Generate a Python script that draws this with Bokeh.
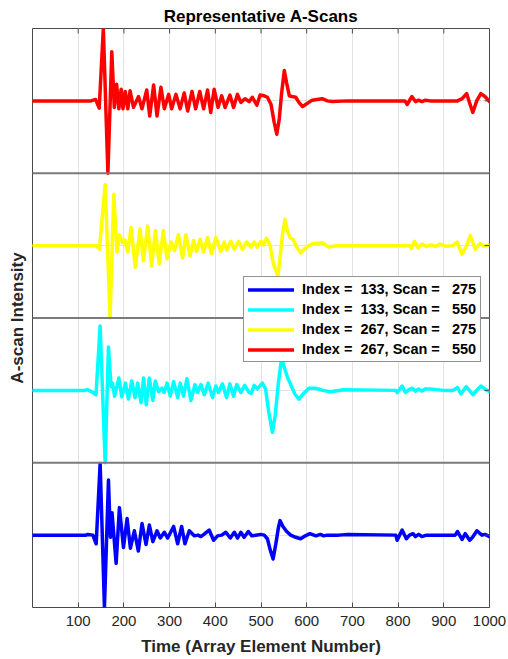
from bokeh.plotting import figure
from bokeh.models import FixedTicker, Span, Legend, LegendItem, Range1d
from bokeh.embed import file_html
from bokeh.resources import INLINE

# ---------------- data ----------------
x_ticks = [100, 200, 300, 400, 500, 600, 700, 800, 900, 1000]
labels = ["Index =  133, Scan =   275", "Index =  133, Scan =   550",
          "Index =  267, Scan =   275", "Index =  267, Scan =   550"]
colors = ["#0000ff", "#00ffff", "#ffff00", "#ff0000"]

blue_x = [0, 117, 121, 132, 139.3, 148, 157.4, 166.2, 170.5, 174, 183, 190.2, 199, 207, 214.2,
          222.9, 231.6, 239.7, 248.4, 255.7, 263.4, 272.4, 279.6, 288.4, 295.8, 308.8, 317.6,
          326.3, 333.6, 343, 354, 362, 368.5, 375, 386.6, 396.2, 405, 414, 423, 432.8, 441.6,
          448.8, 455.8, 463, 472.3, 480, 499.5, 507, 514, 520, 526.5, 533, 538, 541.6, 548,
          556.2, 565, 576, 586.8, 597, 607, 620, 630, 637, 645, 670, 690, 795, 798, 808.8, 818,
          825, 832.8, 838, 845, 852, 862, 925, 930, 940, 947, 956.7, 963, 972.4, 983.4, 990, 1000]
blue_y = [0, 0, 0.01, 0.0, -0.12, 0.99, -1.0, 0.76, -0.03, 0.31, -0.39, 0.38, -0.17, 0.23, -0.18,
          0.06, -0.22, 0.16, -0.13, 0.14, -0.09, 0.06, -0.04, 0.04, -0.04, 0.12, -0.12,
          0.12, -0.12, 0.06, -0.01, 0.0, -0.02, 0.01, 0.07, -0.07, -0.01, 0.0, 0.04, -0.04, 0.04,
          -0.04, 0.04, -0.03, 0.05, -0.01, 0.01, 0.0, -0.05, -0.2, -0.33, -0.1, 0.1, 0.2, 0.12,
          0.05, 0.0, -0.03, -0.05, -0.01, 0.02, -0.01, 0.01, -0.01, 0.0, 0.0, 0.01, 0.0, -0.07, 0.07, -0.05,
          0.0, 0.02, -0.02, 0.01, -0.02, 0.0, 0.0, 0.05, -0.06, 0.02, -0.07, -0.03, 0.06, 0.0, 0.01, -0.02]

cyan_x = [0, 114, 119.6, 130, 139, 148, 159, 166.2, 172, 175, 179.7, 189, 195.4, 203.4, 209.9,
          217.1, 224.4, 230.2, 237.5, 243, 249, 255.7, 263.4, 268.8, 276, 283.3, 288, 294.3,
          301.5, 308.8, 317.8, 323.3, 330.6, 337.9, 346.6, 355.4, 361.2, 368.5, 375.8, 384.5,
          394, 401.2, 407, 415.6, 424.6, 431.8, 439.8, 447, 455.8, 464.5, 474, 479, 485, 492,
          503, 510, 517, 525, 531, 538, 545, 552, 558, 565, 574, 583, 592, 605, 619.5, 635, 652,
          681, 795, 798, 808.8, 816, 824, 831, 838, 845, 852, 859, 870, 900, 920, 930, 937.6, 949,
          963.8, 972, 981.2, 990, 1000]
cyan_y = [0, 0, 0.01, -0.02, -0.06, 0.89, -1.0, 0.6, 0.05, 0.1, -0.08, 0.17, -0.09, 0.10, -0.12,
          0.13, -0.10, 0.10, -0.17, 0.17, -0.20, 0.17, -0.14, 0.13, -0.02, 0.03, -0.03, 0.10,
          -0.08, 0.12, -0.10, 0.10, -0.08, 0.16, -0.14, 0.08, -0.03, 0.08, -0.06, 0.10,
          -0.10, 0.06, -0.03, 0.09, -0.10, 0.09, -0.08, 0.08, -0.03, 0.07, -0.03, -0.04, 0.07, 0.02,
          0.10, 0.02, -0.3, -0.58, -0.35, 0.1, 0.44, 0.3, 0.18, 0.08, -0.05, -0.12, -0.05, 0.03, 0.03, 0.0, -0.02,
          0.01, 0.0, -0.03, 0.06, -0.03, 0.01, 0.03, -0.01, 0.02, -0.01, 0.02, 0.02, 0.0, 0.0, 0.04, -0.05, 0.05,
          -0.06, 0.0, 0.06, 0.02, -0.02]

yellow_x = [0, 135, 140, 146.5, 159, 169.8, 177.9, 184.8, 190, 197.5, 202, 208.5, 215.7, 225,
            235.3, 242.6, 252, 260.8, 268.8, 277.5, 286.2, 294.3, 303, 310.6, 319.3, 328.5, 335.7,
            344.5, 352.5, 359, 367, 374.4, 383, 391.8, 401.2, 412, 419.5, 425, 434, 441.6, 450.8,
            459.5, 469, 478, 485, 492, 500, 505, 512, 520, 527, 537, 542, 547, 552.5, 558, 563.5,
            570.7, 578, 586.8, 596, 605, 615, 623, 634, 648.5, 665, 680, 826, 829, 836, 843.6, 852,
            862, 872, 882, 892, 905, 920, 929, 940, 950, 958, 968.8, 979.7, 987, 1000]
yellow_y = [0, 0, 0.0, -0.05, 0.84, -1.0, 0.71, -0.09, 0.15, 0.04, 0.08, -0.09, 0.25, -0.30,
            0.23, -0.21, 0.27, -0.28, 0.21, -0.25, 0.21, -0.18, 0.05, -0.07, 0.15, -0.17, 0.15,
            -0.14, 0.07, -0.08, 0.09, -0.09, 0.11, -0.11, 0.11, -0.08, 0.05, -0.06, 0.06, -0.05, 0.06,
            -0.05, 0.05, -0.02, 0.05, -0.02, 0.06, 0.01, 0.10, 0.0, -0.25, -0.42, -0.15, 0.15, 0.36, 0.2, 0.11,
            0.08, -0.02, -0.10, -0.04, 0.0, 0.03, 0.03, 0.04, -0.02, 0.0, 0.0, 0.0, -0.04, 0.06, -0.03, 0.02,
            -0.01, 0.01, -0.01, 0.02, -0.01, 0.0, 0.05, -0.12, 0.0, 0.14, -0.05, 0.03, -0.01, 0.01]

red_x = [0, 128, 138, 146, 155, 165, 173.5, 179, 184, 189, 194, 198, 203, 208.5, 213.5, 221,
         232, 239.5, 250, 256.5, 265, 272.5, 281, 288.5, 298, 304.5, 314, 323, 332, 339.5, 349,
         357, 366, 374.5, 383, 390, 397.5, 406, 414, 421.5, 432, 440, 448.5, 456, 465, 474, 481,
         491, 498, 507, 514, 522, 529, 534.5, 540, 545, 551, 556, 562, 568, 576, 583, 591, 600,
         612, 634, 645, 656, 689, 815, 820, 830, 838, 845, 852, 860, 870, 900, 930, 940, 950, 956,
         963.5, 972, 981, 990, 1000]
red_y = [0, 0, 0.02, -0.10, 1.0, -1.0, 0.68, -0.09, 0.23, -0.11, 0.16, -0.11, 0.13, -0.11, 0.14, -0.09,
         0.06, -0.11, 0.15, -0.21, 0.22, -0.21, 0.19, -0.11, 0.09, -0.11, 0.09, -0.11, 0.11, -0.14, 0.13,
         -0.11, 0.13, -0.11, 0.15, -0.16, 0.16, -0.09, 0.07, -0.09, 0.08, -0.09, 0.09, -0.02, 0.03, -0.01, 0.05,
         -0.06, 0.08, 0.07, 0.05, -0.05, -0.30, -0.46, -0.25, 0.1, 0.42, 0.25, 0.07, 0.06, 0.05, -0.02, -0.08, -0.04,
         0.01, 0.03, 0.0, -0.01, 0.0, 0.0, -0.05, 0.06, -0.01, 0.01, -0.01, 0.01, 0.0, 0.0, 0.0, 0.03, 0.1, -0.02,
         -0.16, 0.0, 0.10, 0.06, -0.01]

traces_x = [blue_x, cyan_x, yellow_x, red_x]
traces_y = [blue_y, cyan_y, yellow_y, red_y]

# ---------------- layout / style ----------------
FONT = "Liberation Sans"
offsets = [0, 2, 4, 6]          # vertical stacking of the four panels
separators = [1, 3, 5]
Y0, Y1 = -1, 7
TICK_LEN_Y = 5 / 72.4           # 5 px in y data units
TICK_LEN_X = 5 / 0.458          # 5 px in x data units
AX = "#4a4a4a"

p = figure(width=508, height=659, x_range=Range1d(0, 1000), y_range=Range1d(Y0, Y1),
           output_backend="svg", toolbar_location=None,
           min_border_left=32, min_border_right=19, min_border_top=28, min_border_bottom=52)

p.title.text = "Representative A-Scans"
p.title.text_font = FONT
p.title.text_font_size = "17px"
p.title.text_font_style = "bold"
p.title.text_color = "#000000"
p.title.align = "center"
p.title.standoff = 5

p.outline_line_color = AX
p.outline_line_width = 1
p.background_fill_color = "white"
p.border_fill_color = "white"

xt = FixedTicker(ticks=x_ticks)
p.xaxis.ticker = xt
p.xaxis.axis_label = "Time (Array Element Number)"
p.xaxis.axis_label_text_font = FONT
p.xaxis.axis_label_text_font_size = "17px"
p.xaxis.axis_label_text_font_style = "bold"
p.xaxis.axis_label_text_color = "#262626"
p.xaxis.axis_label_standoff = 8
p.xaxis.major_label_text_font = FONT
p.xaxis.major_label_text_font_size = "15px"
p.xaxis.major_label_text_color = "#262626"
p.xaxis.major_label_standoff = 8
p.xaxis.major_tick_in = 5
p.xaxis.major_tick_out = 0
p.xaxis.minor_tick_line_color = None
p.xaxis.axis_line_color = None
p.xaxis.major_tick_line_color = AX

p.yaxis.ticker = FixedTicker(ticks=[])
p.yaxis.axis_label = "A-scan Intensity"
p.yaxis.axis_label_text_font = FONT
p.yaxis.axis_label_text_font_size = "17px"
p.yaxis.axis_label_text_font_style = "bold"
p.yaxis.axis_label_text_color = "#262626"
p.yaxis.axis_label_standoff = 6
p.yaxis.major_label_standoff = 0
p.yaxis.major_tick_out = 0
p.yaxis.minor_tick_line_color = None
p.yaxis.axis_line_color = None

p.xgrid.ticker = xt
p.xgrid.grid_line_color = "#e3e3e3"
p.ygrid.ticker = FixedTicker(ticks=offsets)
p.ygrid.grid_line_color = "#e3e3e3"

renderers = []
for xs, ys, off, c in zip(traces_x, traces_y, offsets, colors):
    r = p.line(list(xs), [v + off for v in ys], line_color=c, line_width=3.5,
               line_join="round", line_cap="round")
    renderers.append(r)

# inward tick marks along the top edge and at the right edge (panel baselines)
n = len(x_ticks)
p.segment(x0=x_ticks, y0=[Y1] * n, x1=x_ticks, y1=[Y1 - TICK_LEN_Y] * n,
          line_color=AX, line_width=1)
m = len(offsets)
p.segment(x0=[1000] * m, y0=offsets, x1=[1000 - TICK_LEN_X] * m, y1=offsets,
          line_color=AX, line_width=1)

for s in separators:
    p.add_layout(Span(location=s, dimension="width", line_color="#7a7a7a", line_width=2))

legend = Legend(items=[LegendItem(label=lab, renderers=[r]) for lab, r in zip(labels, renderers)],
                location=(211, 245))
legend.label_text_font = FONT
legend.label_text_font_size = "14.5px"
legend.label_text_font_style = "bold"
legend.label_text_color = "#000000"
legend.glyph_width = 46
legend.glyph_height = 15
legend.label_height = 15
legend.spacing = 4
legend.padding = 4
legend.margin = 0
legend.label_standoff = 8
legend.border_line_color = "#262626"
legend.border_line_width = 1
legend.background_fill_alpha = 1.0
p.add_layout(legend)

open("out.html", "w").write(file_html(p, INLINE))
